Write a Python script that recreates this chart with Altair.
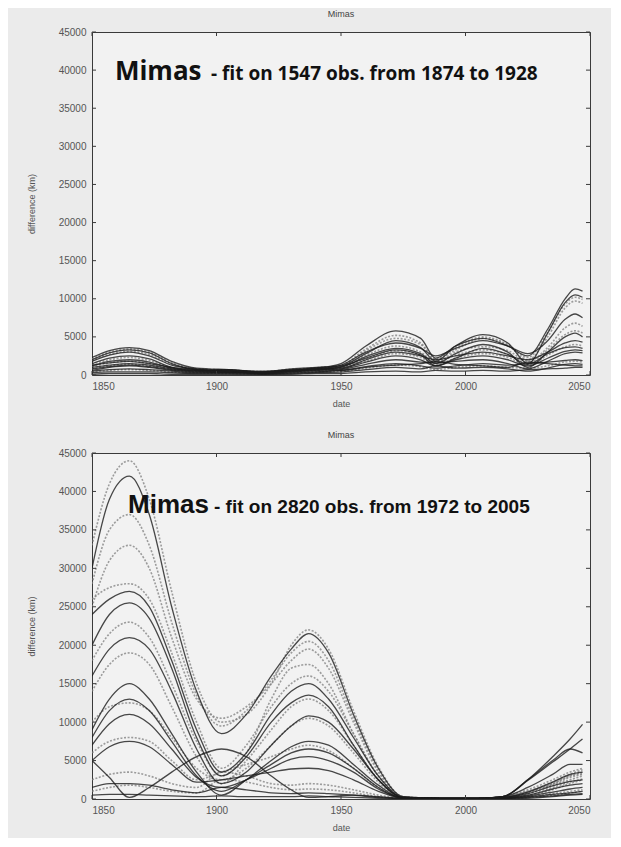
import altair as alt
import pandas as pd

# ---------------- data ----------------
X_TICKS = [1850, 1900, 1950, 2000, 2050]
Y_TICKS = [0, 5000, 10000, 15000, 20000, 25000, 30000, 35000, 40000, 45000]

# top panel: fit on 1547 obs. from 1874 to 1928
T_YEARS = [1850, 1857, 1865, 1873, 1882, 1892, 1905, 1918, 1930, 1940, 1950, 1960,
           1972, 1982, 1988, 1996, 2007, 2017, 2025, 2033, 2040, 2044, 2047]
TOP_D1 = [2300, 3200, 3600, 3200, 1800, 900, 700, 500, 700, 900, 1500, 3800, 5800, 4800, 2200, 3800, 4800, 3800, 2500, 6000, 10000, 11300, 11000]
TOP_D2 = [2000, 2900, 3300, 2900, 1500, 700, 600, 400, 800, 1000, 1200, 2800, 4500, 3600, 1800, 3800, 5300, 4200, 1500, 5500, 9500, 10500, 10200]
TOP_D3 = [1800, 2600, 3000, 2500, 1300, 800, 500, 300, 600, 800, 1300, 3000, 4200, 3500, 2500, 3500, 4500, 3800, 2800, 4500, 7300, 8000, 7500]
TOP_D4 = [1500, 2200, 2500, 2100, 1000, 600, 700, 400, 500, 700, 1000, 2400, 3500, 2800, 1500, 2800, 4000, 3000, 1000, 3000, 5000, 5500, 5000]
TOP_D5 = [1200, 1800, 2000, 1700, 900, 500, 400, 300, 600, 900, 900, 2000, 3000, 2500, 2000, 2500, 3000, 2500, 2000, 3000, 4200, 4500, 4300]
TOP_D6 = [1000, 1300, 1500, 1300, 800, 600, 500, 200, 400, 600, 800, 1700, 2500, 2000, 1200, 2000, 2500, 2000, 1200, 2200, 3100, 3300, 3200]
TOP_D7 = [600, 1000, 1200, 1000, 600, 400, 300, 300, 500, 500, 700, 1400, 2000, 1700, 1600, 1800, 2000, 1500, 800, 1800, 2800, 3000, 2900]
TOP_D8 = [500, 700, 800, 700, 500, 300, 300, 200, 300, 400, 600, 1100, 1500, 1200, 900, 1200, 1500, 1300, 1500, 1700, 1900, 2000, 1900]
TOP_D9 = [300, 400, 400, 400, 300, 200, 200, 100, 200, 300, 400, 700, 1000, 800, 1200, 900, 1000, 800, 500, 900, 1400, 1500, 1400]
TOP_D10 = [100, 200, 200, 200, 100, 100, 100, 100, 100, 200, 200, 400, 500, 400, 600, 500, 600, 500, 700, 800, 900, 1000, 1000]
TOP_D11 = [800, 1100, 1300, 1100, 700, 500, 600, 400, 600, 800, 600, 1000, 1300, 1500, 1800, 1400, 1200, 1000, 1700, 1500, 1300, 1200, 1200]
TOP_D12 = [1300, 1600, 1800, 1500, 1000, 700, 400, 300, 500, 700, 1100, 2200, 3300, 2600, 1200, 2200, 3500, 2700, 1400, 2800, 3600, 3700, 3500]
TOP_L1 = [1900, 2700, 3100, 2700, 1400, 700, 600, 350, 650, 850, 1200, 3200, 4800, 4000, 2000, 3300, 4800, 3900, 2000, 5000, 8800, 9700, 9400]
TOP_L2 = [1400, 2000, 2300, 1900, 1000, 600, 500, 300, 500, 800, 1100, 2600, 3800, 3000, 1700, 3000, 3700, 3200, 1800, 3600, 6200, 6800, 6400]
TOP_L3 = [800, 1200, 1400, 1200, 700, 400, 400, 200, 400, 600, 900, 1800, 2800, 2300, 1400, 2200, 2800, 2300, 1300, 2600, 3700, 4000, 3800]
TOP_L4 = [400, 600, 700, 600, 400, 300, 200, 150, 250, 400, 500, 900, 1300, 1100, 700, 1000, 1200, 1000, 900, 1200, 1700, 1800, 1700]
TOP_L5 = [2100, 3000, 3400, 3000, 1600, 800, 650, 450, 750, 950, 1300, 3400, 5200, 4200, 2100, 3600, 5000, 4000, 2300, 5600, 9300, 10200, 9900]
TOP_L6 = [1100, 1600, 1800, 1500, 800, 500, 450, 250, 450, 700, 1000, 2100, 3200, 2600, 1600, 2600, 3300, 2700, 1600, 3300, 5300, 5800, 5500]

# bottom panel: fit on 2820 obs. from 1972 to 2005
B_YEARS = [1850, 1857, 1865, 1873, 1882, 1892, 1902, 1912, 1922, 1930, 1937, 1945,
           1955, 1965, 1975, 1990, 2005, 2015, 2025, 2035, 2042, 2047]
BOT_D1 = [30000, 39000, 42000, 37000, 25000, 14000, 8500, 11000, 16000, 19500, 21500, 19000, 11000, 4000, 300, 100, 100, 300, 2500, 5500, 7800, 9700]
BOT_D2 = [24000, 26000, 27000, 25000, 18000, 9000, 3500, 6000, 11000, 14000, 15000, 13000, 8000, 3000, 200, 100, 100, 300, 2400, 4800, 6500, 7800]
BOT_D3 = [20000, 24000, 25500, 23500, 17000, 8000, 3000, 5500, 10000, 12500, 13500, 12000, 7000, 2500, 200, 100, 100, 300, 2500, 5000, 6500, 6000]
BOT_D4 = [16000, 19500, 21000, 19500, 14000, 6500, 2000, 3500, 7000, 9500, 10800, 10000, 6500, 2500, 200, 100, 100, 300, 1500, 3200, 4500, 4500]
BOT_D5 = [9000, 13000, 15000, 13000, 8500, 3500, 500, 2500, 5000, 6800, 7500, 7000, 4500, 1800, 100, 50, 50, 200, 900, 2200, 3200, 3500]
BOT_D6 = [8000, 11500, 13000, 11500, 7500, 3000, 1000, 2500, 4500, 6000, 6500, 6000, 4000, 1500, 100, 50, 50, 200, 700, 1700, 2300, 2500]
BOT_D7 = [7000, 9800, 11000, 9800, 6500, 2800, 1500, 2500, 4000, 5200, 5500, 5000, 3500, 1300, 100, 50, 50, 150, 500, 1300, 1800, 2000]
BOT_D8 = [5000, 2800, 200, 1500, 3500, 5500, 6500, 5500, 3000, 1200, 200, 300, 500, 300, 100, 50, 50, 100, 300, 600, 800, 1000]
BOT_D9 = [1500, 2000, 2000, 1800, 1200, 800, 1500, 1200, 800, 700, 800, 700, 500, 200, 50, 20, 20, 50, 200, 400, 600, 700]
BOT_D10 = [5000, 6800, 7500, 6800, 4500, 2200, 2500, 3000, 3500, 3900, 4000, 3700, 2500, 1000, 100, 50, 50, 100, 400, 900, 1300, 1500]
BOT_D11 = [500, 600, 600, 500, 400, 300, 400, 300, 300, 300, 400, 300, 200, 100, 30, 20, 20, 30, 100, 300, 500, 600]
BOT_L1 = [33000, 41000, 44000, 39000, 27000, 15000, 10000, 11000, 15000, 20000, 22000, 19500, 11500, 4200, 300, 100, 100, 300, 1000, 2000, 3000, 3500]
BOT_L2 = [25000, 31000, 33000, 30000, 21000, 13000, 10500, 12000, 15000, 18000, 19500, 17000, 10000, 3500, 200, 100, 100, 200, 800, 1800, 2500, 3000]
BOT_L3 = [18000, 21500, 23000, 21000, 15000, 7500, 3000, 6000, 13000, 17000, 17500, 15000, 8500, 3000, 200, 100, 100, 300, 1200, 2500, 3500, 4000]
BOT_L4 = [14000, 17500, 19000, 17500, 12000, 5500, 2000, 5000, 9000, 12000, 13000, 11500, 7000, 2500, 150, 80, 80, 200, 900, 2000, 3000, 3300]
BOT_L5 = [6000, 7500, 8000, 7500, 5000, 2500, 3500, 4500, 5500, 6500, 7000, 6300, 4000, 1500, 100, 50, 50, 100, 500, 1200, 2000, 2500]
BOT_L6 = [2500, 3200, 3500, 3000, 2000, 1500, 3500, 3000, 2000, 1800, 2000, 1800, 1200, 500, 100, 50, 50, 100, 300, 700, 1000, 1200]
BOT_L7 = [26000, 27500, 28000, 26000, 19000, 10000, 4000, 7000, 12000, 15000, 16000, 14000, 8500, 3000, 200, 100, 100, 300, 1000, 2200, 3200, 3800]
BOT_L8 = [28000, 35000, 37000, 33000, 23000, 13500, 9500, 11500, 15500, 19000, 20500, 18000, 10500, 3800, 250, 100, 100, 250, 900, 1900, 2800, 3200]
BOT_L9 = [10000, 12000, 12500, 11500, 8000, 4000, 2500, 4000, 7000, 9500, 10500, 9500, 6000, 2200, 150, 80, 80, 200, 700, 1500, 2200, 2600]
BOT_L10 = [1000, 1500, 1800, 1500, 1000, 800, 2500, 2200, 1500, 1200, 1300, 1200, 800, 300, 50, 30, 30, 60, 200, 500, 800, 1000]

TOP_TEXT = ["Mimas", "- fit on 1547 obs. from 1874 to 1928"]
TOP_TEXT_X = [1859.2, 1897.8]
TOP_TEXT_Y = [38700, 38700]
BOT_TEXT = ["Mimas", "- fit on 2820 obs. from 1972 to 2005"]
BOT_TEXT_X = [1864.5, 1899.0]
BOT_TEXT_Y = [37200, 37200]

W = 498
H_TOP = 343
H_BOT = 346


def long_df(years, curves, kind):
    rows = []
    for i, c in enumerate(curves):
        assert len(c) == len(years), (kind, i, len(c))
        for yr, v in zip(years, c):
            rows.append({"year": yr, "value": v, "curve": f"{kind}{i}"})
    return pd.DataFrame(rows)


def panel(years, dark, light, texts, tx, ty, font, small_size, height):
    xs = alt.Scale(domain=[1850, 2050], nice=False, zero=False)
    ys = alt.Scale(domain=[0, 45000], nice=False)
    xax = alt.Axis(values=X_TICKS, format="d", title="date")
    yax = alt.Axis(values=Y_TICKS, format="d", title="difference (km)")
    X = alt.X("year:Q", scale=xs, axis=xax)
    Y = alt.Y("value:Q", scale=ys, axis=yax)

    light_layer = alt.Chart(long_df(years, light, "l")).mark_line(
        interpolate="monotone", clip=True, color="#7d7d7d", strokeWidth=1.6,
        strokeDash=[2, 1.6], opacity=0.75
    ).encode(x=X, y=Y, detail="curve:N")
    dark_layer = alt.Chart(long_df(years, dark, "d")).mark_line(
        interpolate="monotone", clip=True, color="#1c1c1c", strokeWidth=1.3, opacity=0.8
    ).encode(x=X, y=Y, detail="curve:N")

    ydf = pd.DataFrame({"value": Y_TICKS})
    xdf = pd.DataFrame({"year": X_TICKS})
    tick_col = "#3a3a3a"
    lt = alt.Chart(ydf).mark_rule(color=tick_col).encode(y=Y, x=alt.value(0), x2=alt.value(4))
    rt = alt.Chart(ydf).mark_rule(color=tick_col).encode(y=Y, x=alt.value(W - 4), x2=alt.value(W))
    tt = alt.Chart(xdf).mark_rule(color=tick_col).encode(x=X, y=alt.value(0), y2=alt.value(4))
    bt = alt.Chart(xdf).mark_rule(color=tick_col).encode(x=X, y=alt.value(height - 4), y2=alt.value(height))

    big = alt.Chart(pd.DataFrame({"year": [tx[0]], "value": [ty[0]], "label": [texts[0]]})).mark_text(
        align="left", baseline="alphabetic", font=font, fontWeight="bold",
        fontSize=26, color="#111"
    ).encode(x=X, y=Y, text="label:N")
    small = alt.Chart(pd.DataFrame({"year": [tx[1]], "value": [ty[1]], "label": [texts[1]]})).mark_text(
        align="left", baseline="alphabetic", font=font, fontWeight="bold",
        fontSize=small_size, color="#111"
    ).encode(x=X, y=Y, text="label:N")

    return alt.layer(light_layer, dark_layer, lt, rt, tt, bt, big, small).properties(
        width=W, height=height,
        title=alt.TitleParams("Mimas", fontSize=9, font="Liberation Sans", color="#444",
                              fontWeight="normal", offset=8),
    )


top = panel(T_YEARS,
            [TOP_D1, TOP_D2, TOP_D3, TOP_D4, TOP_D5, TOP_D6, TOP_D7, TOP_D8, TOP_D9, TOP_D10, TOP_D11, TOP_D12],
            [TOP_L1, TOP_L2, TOP_L3, TOP_L4, TOP_L5, TOP_L6],
            TOP_TEXT, TOP_TEXT_X, TOP_TEXT_Y, "Open Sans", 19, H_TOP)
bottom = panel(B_YEARS,
               [BOT_D1, BOT_D2, BOT_D3, BOT_D4, BOT_D5, BOT_D6, BOT_D7, BOT_D8, BOT_D9, BOT_D10, BOT_D11],
               [BOT_L1, BOT_L2, BOT_L3, BOT_L4, BOT_L5, BOT_L6, BOT_L7, BOT_L8, BOT_L9, BOT_L10],
               BOT_TEXT, BOT_TEXT_X, BOT_TEXT_Y, "Liberation Sans", 19, H_BOT)

chart = alt.vconcat(top, bottom, spacing=21).properties(
    padding={"left": 18, "top": 1, "right": 20, "bottom": 5},
    background="#ebebeb",
).configure_view(
    stroke="#3a3a3a", strokeWidth=1, fill="#f2f2f2"
).configure_axis(
    labelFont="Liberation Sans", labelFontSize=10, labelColor="#555",
    titleFont="Liberation Sans", titleFontSize=9, titleColor="#555",
    titleFontWeight="normal", domain=False, ticks=False, grid=False,
).configure_axisY(
    labelPadding=6, titlePadding=23, minExtent=33, maxExtent=33,
).configure_axisX(
    labelPadding=6, titlePadding=8,
)

chart.save("out.html", embed_options={"renderer": "svg", "actions": False})
